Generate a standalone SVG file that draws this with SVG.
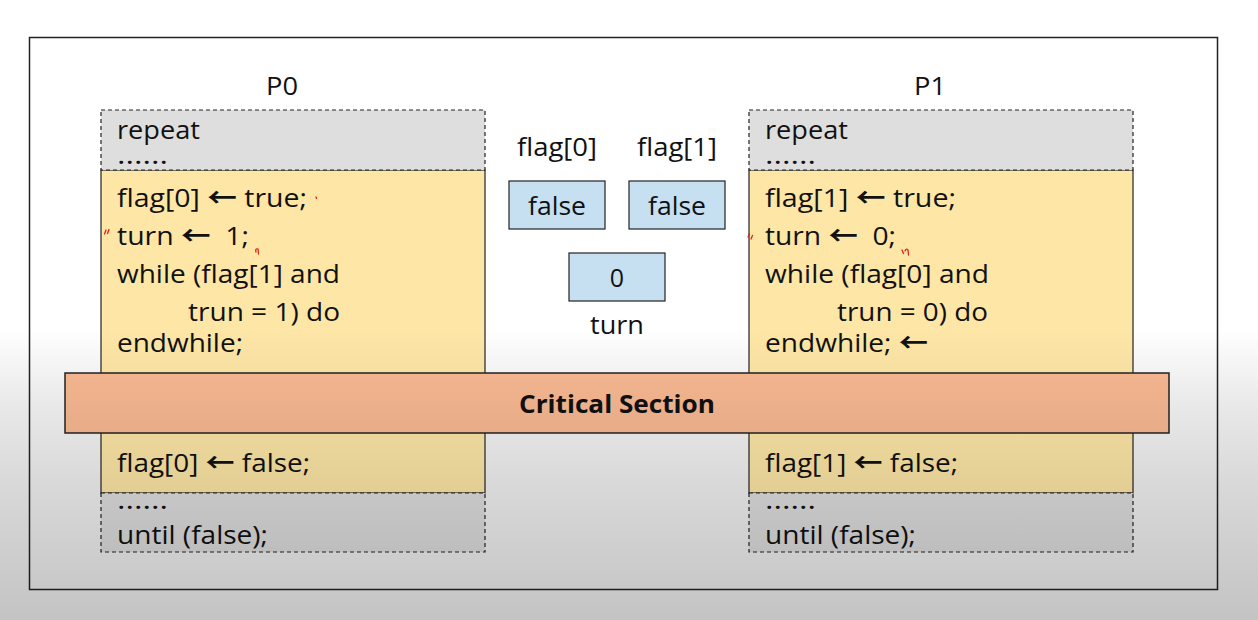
<svg xmlns="http://www.w3.org/2000/svg" width="1258" height="620" viewBox="0 0 1258 620">
<defs>
<linearGradient id="bgg" x1="0" y1="0" x2="0" y2="620" gradientUnits="userSpaceOnUse">
<stop offset="0.53" stop-color="#000" stop-opacity="0"/>
<stop offset="0.65" stop-color="#000" stop-opacity="0.04"/>
<stop offset="0.78" stop-color="#000" stop-opacity="0.055"/>
<stop offset="1" stop-color="#000" stop-opacity="0.055"/>
</linearGradient>
<linearGradient id="vig" x1="0" y1="0" x2="0" y2="620" gradientUnits="userSpaceOnUse">
<stop offset="0.53" stop-color="#000" stop-opacity="0"/>
<stop offset="1" stop-color="#000" stop-opacity="0.19"/>
</linearGradient>
</defs>
<style>
.t{font-family:"Open Sans","Noto Sans",sans-serif;font-size:25px;fill:#111}
.c{text-anchor:middle}
.a{font-family:"Noto Sans CJK SC","DejaVu Sans",sans-serif;font-weight:bold;font-size:26px}
.gray{fill:#dedede;stroke:#222;stroke-width:1.2;stroke-dasharray:4 3}
.yel{fill:#fde6a6;stroke:#222;stroke-width:1.2}
.var{fill:#c6dff1;stroke:#222;stroke-width:1.2}
.red{fill:none;stroke:#e0201a;stroke-width:1.3;stroke-linecap:round}
.cs{font-family:"Open Sans","Noto Sans",sans-serif;font-size:25px;font-weight:bold;fill:#111;text-anchor:middle}
</style>
<rect width="1258" height="620" fill="#fff"/>
<rect width="1258" height="620" fill="url(#bgg)"/>
<rect id="frame" x="29.5" y="37.5" width="1188" height="552" fill="none" stroke="#222" stroke-width="1.5"/>

<g id="P0">
<text class="t c" x="282" y="95" textLength="32" lengthAdjust="spacingAndGlyphs">P0</text>
<rect class="yel" x="101" y="170" width="384" height="323"/>
<rect class="gray" x="101" y="110" width="384" height="60"/>
<rect class="gray" x="101" y="493" width="384" height="59"/>
<text class="t" x="117" y="139" textLength="83" lengthAdjust="spacingAndGlyphs">repeat</text>
<text class="t" x="117" y="164" textLength="51" lengthAdjust="spacingAndGlyphs">......</text>
<text class="t" x="117" y="207" textLength="190" lengthAdjust="spacingAndGlyphs">flag[0] <tspan class="a">←</tspan> true;</text>
<text class="t" x="117" y="245" textLength="132" lengthAdjust="spacingAndGlyphs" xml:space="preserve">turn <tspan class="a">←</tspan>  1;</text>
<text class="t" x="117" y="283" textLength="223" lengthAdjust="spacingAndGlyphs">while (flag[1] and</text>
<text class="t" x="188" y="321" textLength="152" lengthAdjust="spacingAndGlyphs">trun = 1) do</text>
<text class="t" x="117" y="352" textLength="126" lengthAdjust="spacingAndGlyphs">endwhile;</text>
<text class="t" x="117" y="472" textLength="193" lengthAdjust="spacingAndGlyphs">flag[0] <tspan class="a">←</tspan> false;</text>
<text class="t" x="117" y="509" textLength="51" lengthAdjust="spacingAndGlyphs">......</text>
<text class="t" x="117" y="544" textLength="151" lengthAdjust="spacingAndGlyphs">until (false);</text>
<path class="red" d="M316 197 l0.5 1.5 M106 230 l-1.5 4 M109 229.5 l-1.5 4 M256 252 q-1 -4 2 -3 l0.5 5"/>
</g>

<g id="P1">
<text class="t c" x="930" y="95" textLength="32" lengthAdjust="spacingAndGlyphs">P1</text>
<rect class="yel" x="749" y="170" width="384" height="323"/>
<rect class="gray" x="749" y="110" width="384" height="60"/>
<rect class="gray" x="749" y="493" width="384" height="59"/>
<text class="t" x="765" y="139" textLength="83" lengthAdjust="spacingAndGlyphs">repeat</text>
<text class="t" x="765" y="164" textLength="51" lengthAdjust="spacingAndGlyphs">......</text>
<text class="t" x="765" y="207" textLength="191" lengthAdjust="spacingAndGlyphs">flag[1] <tspan class="a">←</tspan> true;</text>
<text class="t" x="765" y="245" textLength="131" lengthAdjust="spacingAndGlyphs" xml:space="preserve">turn <tspan class="a">←</tspan>  0;</text>
<text class="t" x="765" y="283" textLength="224" lengthAdjust="spacingAndGlyphs">while (flag[0] and</text>
<text class="t" x="837" y="321" textLength="151" lengthAdjust="spacingAndGlyphs">trun = 0) do</text>
<text class="t" x="765" y="352" textLength="163" lengthAdjust="spacingAndGlyphs">endwhile; <tspan class="a">←</tspan></text>
<text class="t" x="765" y="472" textLength="193" lengthAdjust="spacingAndGlyphs">flag[1] <tspan class="a">←</tspan> false;</text>
<text class="t" x="765" y="509" textLength="51" lengthAdjust="spacingAndGlyphs">......</text>
<text class="t" x="765" y="544" textLength="151" lengthAdjust="spacingAndGlyphs">until (false);</text>
<path class="red" d="M748 237 l1.5 -3 M751 239 l1.5 -3.5 M902 250 l1.5 3.5 M905 251 q1 -3 3 -1 l0.5 5"/>
</g>

<g id="vars">
<text class="t c" x="557" y="156" textLength="80" lengthAdjust="spacingAndGlyphs">flag[0]</text>
<text class="t c" x="677" y="156" textLength="80" lengthAdjust="spacingAndGlyphs">flag[1]</text>
<rect class="var" x="509" y="181" width="96" height="48"/>
<text class="t c" x="557" y="215" textLength="58" lengthAdjust="spacingAndGlyphs">false</text>
<rect class="var" x="629" y="181" width="96" height="48"/>
<text class="t c" x="677" y="215" textLength="58" lengthAdjust="spacingAndGlyphs">false</text>
<rect class="var" x="569" y="253" width="96" height="48"/>
<text class="t c" x="617" y="287">0</text>
<text class="t c" x="617" y="334" textLength="54" lengthAdjust="spacingAndGlyphs">turn</text>
</g>

<g id="critical">
<rect x="65" y="373" width="1104" height="60" fill="#f8b992" stroke="#222" stroke-width="1.5"/>
<text class="cs" x="617" y="413" textLength="196" lengthAdjust="spacingAndGlyphs">Critical Section</text>
</g>

<rect width="1258" height="620" fill="url(#vig)"/>
</svg>
